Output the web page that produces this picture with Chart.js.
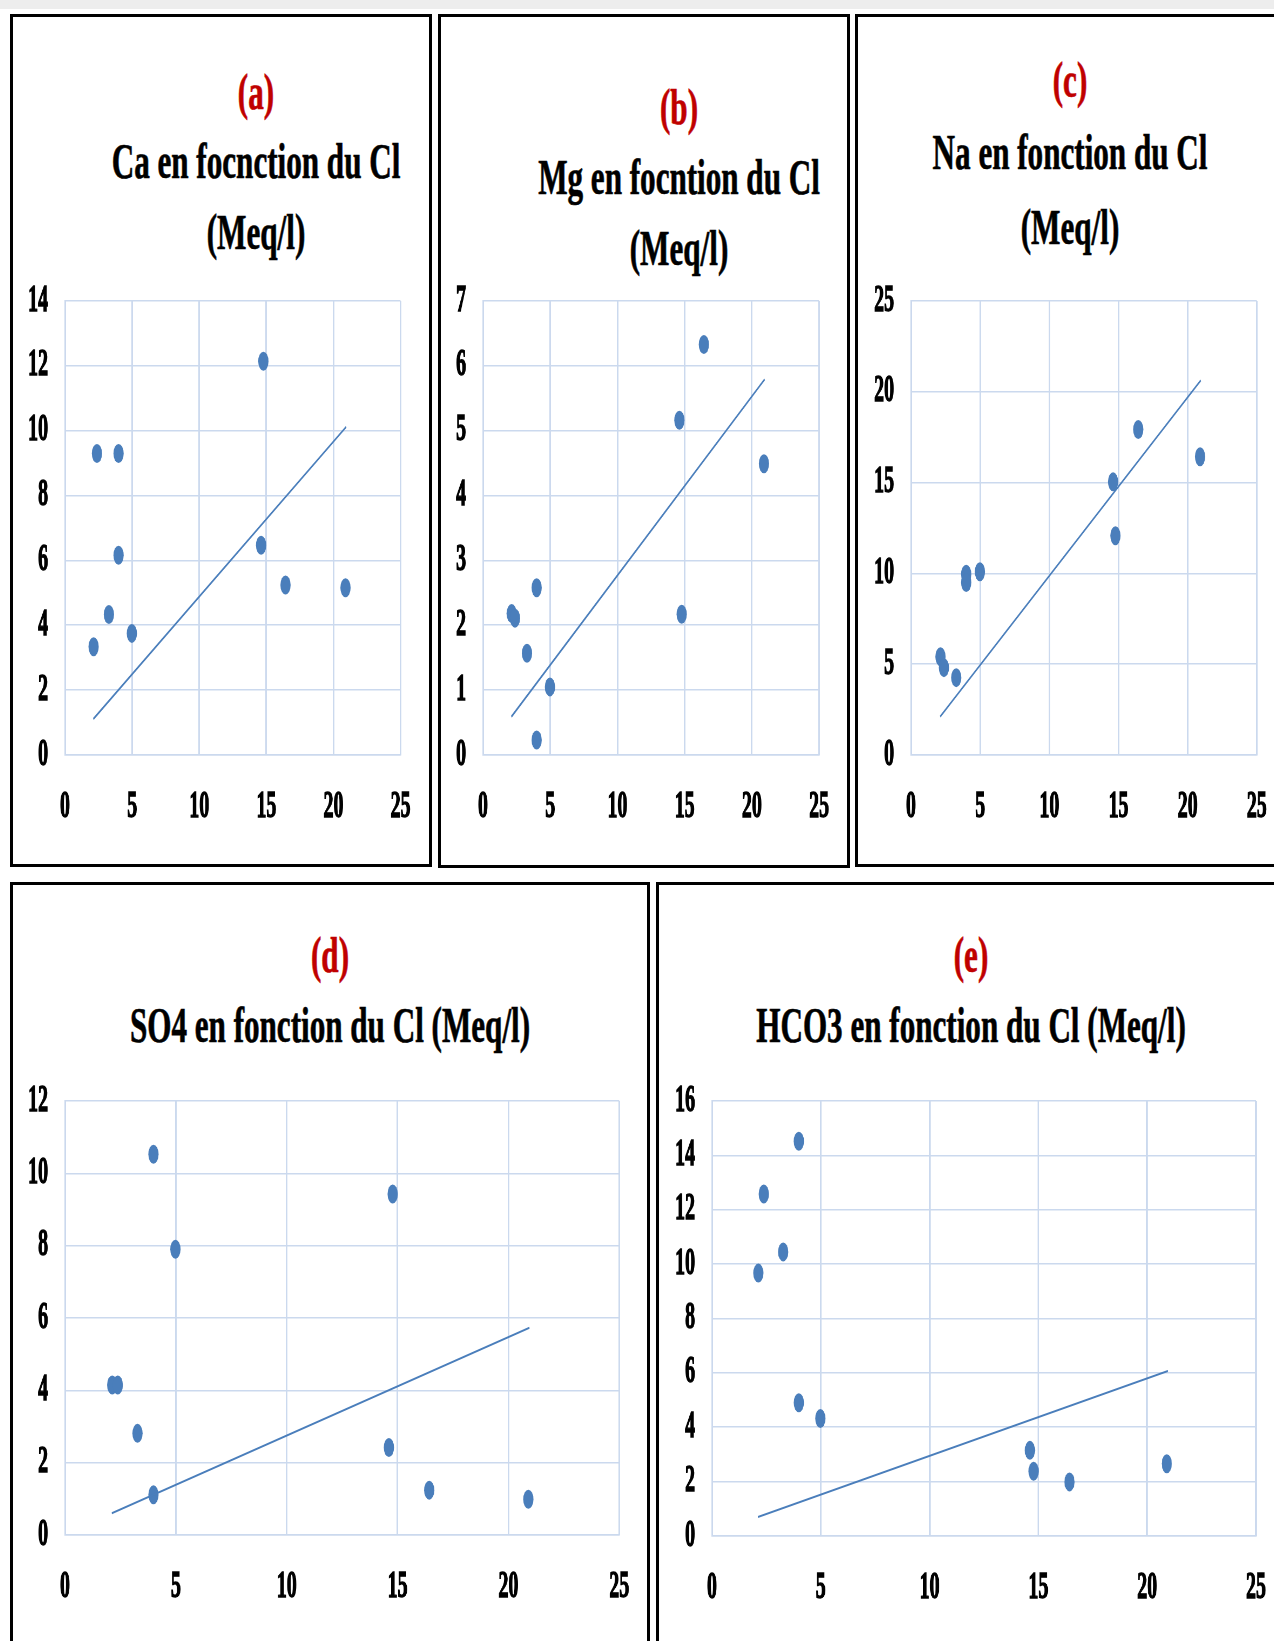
<!DOCTYPE html>
<html>
<head>
<meta charset="utf-8">
<script src="https://cdn.jsdelivr.net/npm/chart.js@4/dist/chart.umd.min.js"></script>
<style>
  html, body { margin: 0; padding: 0; background: #fff; }
  body { width: 1274px; height: 1641px; position: relative; overflow: hidden; }
  .frame { position: absolute; border: 3px solid #000; box-sizing: border-box; }
  .ttl { position: absolute; white-space: nowrap; line-height: 1; font-weight: bold;
         font-family: 'Liberation Serif', 'DejaVu Serif', serif; -webkit-text-stroke: 0.7px currentColor; }
  .wrap { position: absolute; }
  .wrap canvas { position: absolute; left: 0; top: 0; transform-origin: 0 0; }
</style>
</head>
<body>
<div style="position:absolute;left:0;top:0;width:1274px;height:9px;background:#ededed"></div>
<script>
// ---------- DATA ----------
const xTicks = [0, 5, 10, 15, 20, 25];
const clValues   = [2.13, 2.38, 3.27, 3.99, 3.99, 4.98, 14.61, 14.78, 16.43, 20.9];
const caValues   = [3.34, 9.30, 4.33, 9.30, 6.16, 3.75, 6.47, 12.14, 5.24, 5.16];
const mgValues   = [2.18, 2.11, 1.57, 2.58, 0.23, 1.05, 5.16, 2.17, 6.33, 4.49];
const naValues   = [5.41, 4.81, 4.26, 9.95, 9.50, 10.09, 15.04, 12.07, 17.92, 16.42];
const so4Values  = [4.15, 4.15, 2.81, 10.53, 1.11, 7.90, 2.42, 9.43, 1.24, 0.99];
const hco3Values = [9.67, 12.58, 10.45, 14.52, 4.90, 4.32, 3.15, 2.38, 1.99, 2.66];

// linear trend lines (start / end values)
const trendX    = [2.11, 20.95];
const trendCa   = [1.11, 10.12];
const trendMg   = [0.59, 5.79];
const trendNa   = [2.11, 20.63];
const trendSO4  = [0.60, 5.73];
const trendHCO3 = [0.70, 6.07];

const yMaxes = { a: 14, b: 7, c: 25, d: 12, e: 16 };
const ySteps = { a: 2, b: 1, c: 5, d: 2, e: 2 };

const letters = ['(a)', '(b)', '(c)', '(d)', '(e)'];
const titles = [
  ['Ca en focnction du Cl', '(Meq/l)'],
  ['Mg en focntion du Cl', '(Meq/l)'],
  ['Na en fonction du Cl', '(Meq/l)'],
  ['SO4 en fonction du Cl (Meq/l)'],
  ['HCO3 en fonction du Cl (Meq/l)']
];

// ---------- STYLE / LAYOUT ----------
const BLUE = '#4a7ebb';
const GRID = '#cbd9ee';
const RED = '#c00000';
const SX = 0.54;      // horizontal condensation of the chart drawings
const TSX = 0.61;     // horizontal condensation of the titles

const frames = [
  { left: 10, top: 14, width: 422, height: 853 },
  { left: 438, top: 14, width: 412, height: 854 },
  { left: 855, top: 14, width: 440, height: 853 },
  { left: 10, top: 882, width: 640, height: 800 },
  { left: 656, top: 882, width: 660, height: 800 }
];
frames.forEach(f => {
  const d = document.createElement('div');
  d.className = 'frame';
  d.style.left = f.left + 'px'; d.style.top = f.top + 'px';
  d.style.width = f.width + 'px'; d.style.height = f.height + 'px';
  document.body.appendChild(d);
});

function addText(text, cx, cy, color, size) {
  const d = document.createElement('div');
  d.className = 'ttl';
  d.textContent = text;
  d.style.left = cx + 'px';
  d.style.top = cy + 'px';
  d.style.fontSize = size + 'px';
  d.style.color = color;
  d.style.transform = 'translate(-50%,-50%) scaleX(' + TSX + ')';
  document.body.appendChild(d);
}

const titlePos = [
  { cx: 256, ys: [92, 161, 232] },
  { cx: 679, ys: [107, 177, 248] },
  { cx: 1070, ys: [80, 152, 227] },
  { cx: 330, ys: [955, 1025] },
  { cx: 971, ys: [955, 1025] }
];
titlePos.forEach((p, i) => {
  addText(letters[i], p.cx, p.ys[0], RED, 51);
  titles[i].forEach((t, j) => addText(t, p.cx, p.ys[j + 1], '#000', 51));
});

const plots = [
  { L: 65, T: 300.7, R: 400.7, B: 755 },
  { L: 483.3, T: 300.7, R: 819.3, B: 755 },
  { L: 910.7, T: 300.7, R: 1256.7, B: 755 },
  { L: 65, T: 1101, R: 619, B: 1535 },
  { L: 712.3, T: 1100.7, R: 1256, B: 1535.7 }
];

const seriesList = [caValues, mgValues, naValues, so4Values, hco3Values];
const trendList = [trendCa, trendMg, trendNa, trendSO4, trendHCO3];
const keys = ['a', 'b', 'c', 'd', 'e'];

const tickFont = { family: "'Liberation Serif', 'DejaVu Serif', serif", size: 37, weight: 'bold' };

function makeChart(i) {
  const p = plots[i];
  const padL = 60, padR = 30, padT = 62, padB = 80;
  const pageW = p.R - p.L + padL + padR;
  const cw = Math.round(pageW / SX);
  const ch = Math.round(p.B - p.T + padT + padB);
  const wrap = document.createElement('div');
  wrap.className = 'wrap';
  wrap.style.left = (p.L - padL) + 'px';
  wrap.style.top = (p.T - padT) + 'px';
  wrap.style.width = pageW + 'px';
  wrap.style.height = ch + 'px';
  const canvas = document.createElement('canvas');
  canvas.width = cw; canvas.height = ch;
  canvas.style.width = cw + 'px';
  canvas.style.height = ch + 'px';
  canvas.style.transform = 'scaleX(' + SX + ')';
  wrap.appendChild(canvas);
  document.body.appendChild(wrap);

  const ys = seriesList[i];
  const pts = clValues.map((x, k) => ({ x: x, y: ys[k] }));
  const tr = trendList[i];
  const trendPts = trendX.map((x, k) => ({ x: x, y: tr[k] }));
  const key = keys[i];

  new Chart(canvas, {
    type: 'scatter',
    data: {
      datasets: [
        { type: 'line', data: trendPts, borderColor: BLUE, borderWidth: 2.2,
          pointRadius: 0, fill: false, tension: 0, order: 0 },
        { type: 'scatter', data: pts, backgroundColor: BLUE, borderColor: BLUE,
          borderWidth: 0, pointRadius: 9.5, pointHoverRadius: 9.5, order: 1 }
      ]
    },
    options: {
      responsive: false,
      animation: false,
      devicePixelRatio: 1,
      layout: { padding: { left: 0, right: padR / SX, top: padT, bottom: 0 } },
      plugins: { legend: { display: false }, tooltip: { enabled: false }, title: { display: false } },
      scales: {
        x: {
          type: 'linear', min: xTicks[0], max: xTicks[xTicks.length - 1],
          afterBuildTicks: sc => { sc.ticks = xTicks.map(v => ({ value: v })); },
          ticks: { font: tickFont, color: '#000', padding: 30, maxRotation: 0, autoSkip: false,
                   textStrokeColor: '#000', textStrokeWidth: 1.3 },
          grid: { color: GRID, lineWidth: 1.6 / SX, drawTicks: false },
          border: { color: GRID, width: 1.6 },
          afterFit: sc => { sc.height = padB; }
        },
        y: {
          type: 'linear', min: 0, max: yMaxes[key],
          ticks: { stepSize: ySteps[key], font: tickFont, color: '#000', padding: 17 / SX, autoSkip: false,
                   textStrokeColor: '#000', textStrokeWidth: 1.3 },
          grid: { color: GRID, lineWidth: 1.6, drawTicks: false },
          border: { color: GRID, width: 1.6 / SX },
          afterFit: sc => { sc.width = padL / SX; }
        }
      }
    }
  });
}
for (let i = 0; i < 5; i++) makeChart(i);
</script>
</body>
</html>
